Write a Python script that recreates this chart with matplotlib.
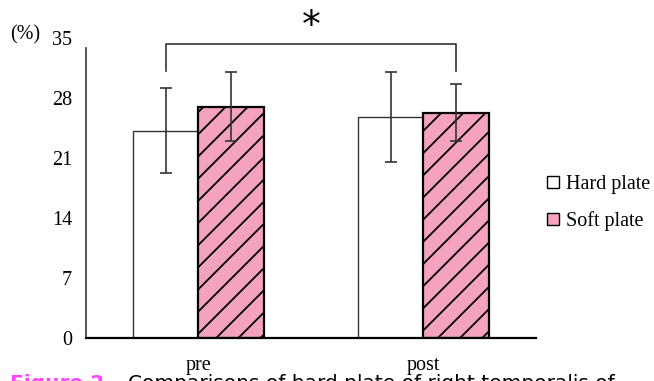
import numpy as np
import matplotlib.pyplot as plt

# Data
groups = ["pre", "post"]
hard_mean = [24.2, 25.8]  # Hard plate (%)
hard_err = [5.0, 5.25]
soft_mean = [27.0, 26.3]  # Soft plate (%)
soft_err = [4.05, 3.3]
yticks = [0, 7, 14, 21, 28, 35]
bracket_y = [31.15, 34.3]  # significance bracket: leg end, top

pink = "#f4a2bf"
DPI = 133.3          # higher dpi so the hatch spacing matches the reference
S = 100 / DPI        # keeps sizes as they'd look at 100 dpi
plt.rcParams["font.family"] = ["Liberation Serif", "DejaVu Serif"]
plt.rcParams["hatch.linewidth"] = 1.3 * S

fig = plt.figure(figsize=(654 / DPI, 381 / DPI), dpi=DPI)
ax = fig.add_axes([0.1315, 0.113, 0.688, 0.787])

fs = 14.5 * S
x = np.arange(len(groups))
w = 0.29
ax.bar(x - w / 2, hard_mean, w, color="white", edgecolor="#333333",
       linewidth=1.0 * S, label="Hard plate")
ax.bar(x + w / 2, soft_mean, w, color=pink, edgecolor="black",
       linewidth=1.6 * S, hatch="//", label="Soft plate")
ax.errorbar(x - w / 2, hard_mean, yerr=hard_err, fmt="none",
            ecolor="#333333", elinewidth=1.2 * S, capsize=4 * S, capthick=1.2 * S)
ax.errorbar(x + w / 2, soft_mean, yerr=soft_err, fmt="none",
            ecolor="#333333", elinewidth=1.2 * S, capsize=4 * S, capthick=1.2 * S)

# significance bracket between pre hard and post soft
x0, x1 = x[0] - w / 2, x[1] + w / 2
ax.plot([x0, x0, x1, x1], [bracket_y[0], bracket_y[1], bracket_y[1], bracket_y[0]],
        color="#333333", lw=1.2 * S, clip_on=False)
ax.text((x0 + x1) / 2, 36.4, "*", ha="center", va="center",
        fontsize=27 * S, family="DejaVu Sans", clip_on=False)

ax.set_xlim(-0.5, 1.5)
ax.set_ylim(0, 35)
ax.set_yticks(yticks)
ax.set_yticklabels([str(v) for v in yticks], fontsize=fs)
ax.tick_params(axis="y", length=0, pad=10 * S)
ax.set_xticks(x)
ax.set_xticklabels(groups, fontsize=fs)
ax.tick_params(axis="x", length=0, pad=13 * S)
for s in ["top", "right"]:
    ax.spines[s].set_visible(False)
ax.spines["left"].set_bounds(0, 33.8)
ax.spines["left"].set_linewidth(1.2 * S)
ax.spines["left"].set_color("#333333")
ax.spines["bottom"].set_linewidth(1.6 * S)

fig.text(10 / 654, 1 - 35 / 381, "(%)", fontsize=fs, va="center")

leg = ax.legend(loc="center left", bbox_to_anchor=(1.025, 0.45), frameon=False,
                fontsize=14.5 * S, handlelength=0.6, handleheight=0.6,
                handletextpad=0.35, labelspacing=0.85, borderpad=0,
                borderaxespad=0)
for h in leg.legend_handles:
    h.set_hatch(None)
    h.set_edgecolor("black")
    h.set_linewidth(1.0 * S)

# cut-off caption under the chart
fig.text(10 / 654, -0.021, "Figure 2.", color="#ff44ff", fontsize=fs,
         weight="bold", family="DejaVu Sans")
fig.text(128 / 654, -0.021, "Comparisons of hard plate of right temporalis of",
         color="black", fontsize=fs, family="DejaVu Sans")

fig.savefig("out.png", dpi=DPI)
